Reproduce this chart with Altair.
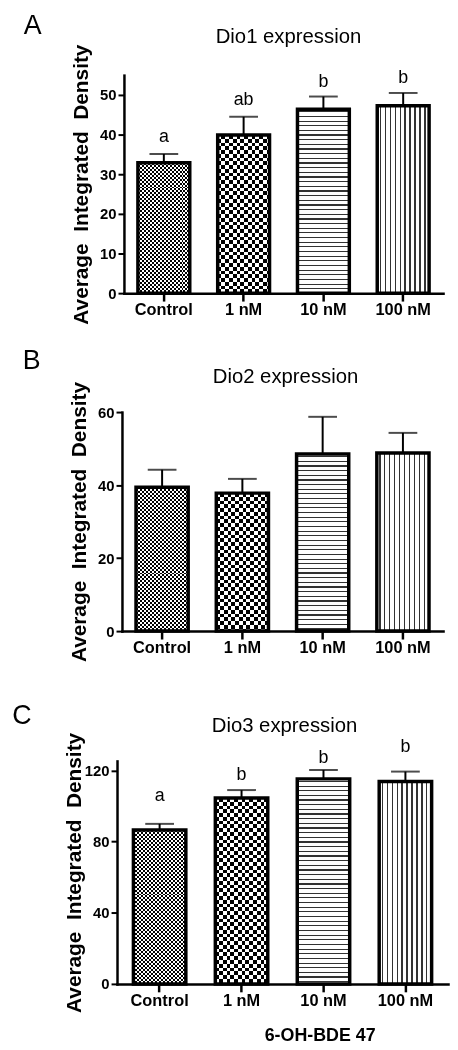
import altair as alt
import pandas as pd

groups = ["Control", "1 nM", "10 nM", "100 nM"]

dio1_mean = [32.9, 39.9, 46.4, 47.3]
dio1_err = [2.2, 4.6, 3.2, 3.2]
dio1_letters = ["a", "ab", "b", "b"]
dio1_letter_y = [38.2, 47.5, 52.0, 53.0]

dio2_mean = [39.4, 37.8, 48.5, 48.8]
dio2_err = [4.8, 3.9, 10.2, 5.5]

dio3_mean = [86.5, 104.5, 115.3, 113.8]
dio3_err = [3.5, 4.5, 5.0, 5.6]
dio3_letters = ["a", "b", "b", "b"]
dio3_letter_y = [102.6, 114.8, 124.0, 130.2]

y_title = "Average\u00a0 Integrated\u00a0 Density"
x_title = "6-OH-BDE 47"
FONT = "Liberation Sans"
PI, PO = 0.35, 0.175


def stripe_stops(length, period, on, on_color, off_color, phase=0.0):
    pts = []
    cur = 0.0
    k = 0
    while cur < length - 1e-9:
        s = phase + k * period
        e = s + on
        s_c = min(max(s, 0.0), length)
        e_c = min(max(e, 0.0), length)
        if s_c > cur:
            pts += [(cur, off_color), (s_c, off_color)]
            cur = s_c
        if e_c > cur:
            pts += [(cur, on_color), (e_c, on_color)]
            cur = e_c
        k += 1
    return [{"offset": round(a / length, 5), "color": c} for a, c in pts]


def grad(stops, along_x):
    if along_x:
        return {"gradient": "linear", "x1": 0, "y1": 0, "x2": 1, "y2": 0, "stops": stops}
    return {"gradient": "linear", "x1": 0, "y1": 0, "x2": 0, "y2": 1, "stops": stops}


def panel(means, errs, letters, letter_y, cfg):
    tops = [m + e for m, e in zip(means, errs)]
    df = pd.DataFrame({"group": groups, "mean": means, "top": tops})
    xr = cfg["xrange"]
    xw = xr[1] - xr[0]
    step = xw / (len(groups) - cfg["pi"] + 2 * cfg["po"])
    bw = step * (1 - cfg["pi"])
    yr = cfg["yrange"]
    pxu = (yr[0] - yr[1]) / cfg["ydomain"][1]

    xaxis = alt.Axis(labelAngle=0, labelFontSize=16.5, labelFontWeight="bold",
                     tickSize=8, tickWidth=2.5, domainWidth=2.5, labelPadding=1,
                     title=None)
    x = alt.X("group:N", sort=groups,
              scale=alt.Scale(domain=groups, range=xr, paddingInner=cfg["pi"], paddingOuter=cfg["po"]),
              axis=xaxis)

    def yenc(field):
        return alt.Y(field + ":Q",
                     scale=alt.Scale(domain=cfg["ydomain"], range=yr, nice=False, zero=True),
                     axis=alt.Axis(values=cfg["yvalues"], offset=cfg["yoff"], title=y_title,
                                   titleFontSize=21, titleFontWeight="bold", titleX=-43,
                                   titleBaseline="middle", titleAlign="center",
                                   labelFontSize=15, labelFontWeight="bold", labelPadding=2,
                                   tickSize=6, tickWidth=2, domainWidth=2.5))

    layers = []
    for i, g in enumerate(groups):
        h = means[i] * pxu
        base = alt.Chart(df).transform_filter(alt.datum.group == g)
        if i in (0, 1):
            c = 2.0 if i == 0 else 3.8
            f1 = grad(stripe_stops(bw, 2 * c, c, "#000000", "#ffffff"), True)
            f2 = grad(stripe_stops(h, 2 * c, c, "#ffffff", "#000000"), False)
            layers.append(base.mark_bar(fill=f1, strokeWidth=0).encode(x=x, y=yenc("mean")))
            layers.append(base.mark_bar(fill=f2, strokeWidth=0, blend="difference").encode(x=x, y=yenc("mean")))
        elif i == 2:
            f = grad(stripe_stops(h, 4.7, 1.2, "#333333", "#ffffff", phase=2.0), False)
            layers.append(base.mark_bar(fill=f, strokeWidth=0).encode(x=x, y=yenc("mean")))
        else:
            f = grad(stripe_stops(bw, 5.0, 1.2, "#333333", "#ffffff", phase=2.5), True)
            layers.append(base.mark_bar(fill=f, strokeWidth=0).encode(x=x, y=yenc("mean")))

    layers.append(alt.Chart(df).mark_bar(fill="transparent", stroke="black", strokeWidth=3.5,
                                         strokeJoin="miter").encode(x=x, y=yenc("mean")))
    layers.append(alt.Chart(df).mark_rule(color="black", strokeWidth=2).encode(
        x=x, y=yenc("mean"), y2="top:Q"))
    layers.append(alt.Chart(df).mark_tick(color="black", size=29, thickness=2).encode(
        x=x, y=yenc("top")))
    if letters:
        ldf = pd.DataFrame({"group": groups, "ly": letter_y, "letter": letters})
        layers.append(alt.Chart(ldf).mark_text(font=FONT, fontSize=18, baseline="alphabetic",
                                               align="center", color="black").encode(
            x=x, y=yenc("ly"), text="letter:N"))
    tdf = pd.DataFrame({"t": [cfg["title"]]})
    layers.append(alt.Chart(tdf).mark_text(font=FONT, fontSize=20.5, baseline="alphabetic",
                                           align="center", color="black").encode(
        x=alt.value(cfg["title_pos"][0]), y=alt.value(cfg["title_pos"][1]), text="t:N"))
    pdf = pd.DataFrame({"t": [cfg["letter"]]})
    layers.append(alt.Chart(pdf).mark_text(font=FONT, fontSize=27, baseline="alphabetic",
                                           align="center", color="black").encode(
        x=alt.value(cfg["letter_pos"][0]), y=alt.value(cfg["letter_pos"][1]), text="t:N"))
    if cfg.get("xtitle"):
        xdf = pd.DataFrame({"t": [cfg["xtitle"]]})
        layers.append(alt.Chart(xdf).mark_text(font=FONT, fontSize=18, fontWeight="bold",
                                               baseline="alphabetic", align="center",
                                               color="black").encode(
            x=alt.value(cfg["xtitle_pos"][0]), y=alt.value(cfg["xtitle_pos"][1]), text="t:N"))
    return alt.layer(*layers).properties(width=cfg["width"], height=cfg["height"])


pA = panel(dio1_mean, dio1_err, dio1_letters, dio1_letter_y, {
    "xrange": [8, 330], "pi": PI, "po": PO, "yrange": [220, 0], "ydomain": [0, 55],
    "yvalues": [0, 10, 20, 30, 40, 50], "yoff": -8, "width": 335, "height": 220,
    "title": "Dio1 expression", "title_pos": [174, -32], "letter": "A", "letter_pos": [-84, -42],
})
pB = panel(dio2_mean, dio2_err, None, None, {
    "xrange": [6, 330], "pi": PI, "po": PO, "yrange": [221, 0], "ydomain": [0, 60],
    "yvalues": [0, 20, 40, 60], "yoff": -6, "width": 335, "height": 221,
    "title": "Dio2 expression", "title_pos": [171, -29], "letter": "B", "letter_pos": [-85, -43],
})
pC = panel(dio3_mean, dio3_err, dio3_letters, dio3_letter_y, {
    "xrange": [1, 335], "pi": 0.36, "po": 0.2, "yrange": [236, 11], "ydomain": [0, 125.4],
    "yvalues": [0, 40, 80, 120], "yoff": -1, "width": 335, "height": 236,
    "title": "Dio3 expression", "title_pos": [170, -18], "letter": "C", "letter_pos": [-95, -26],
    "xtitle": x_title, "xtitle_pos": [206, 294],
})

chart = alt.vconcat(pA, pB, pC, spacing=120, bounds="flush").properties(
    padding={"left": 4, "top": -1, "right": 2, "bottom": 4}
).configure_view(stroke=None).configure_axis(
    grid=False, domainColor="black", tickColor="black", labelColor="black",
    titleColor="black", labelFont=FONT, titleFont=FONT, domainCap="square"
)

chart.save("out.html", embed_options={"renderer": "svg", "actions": False})
